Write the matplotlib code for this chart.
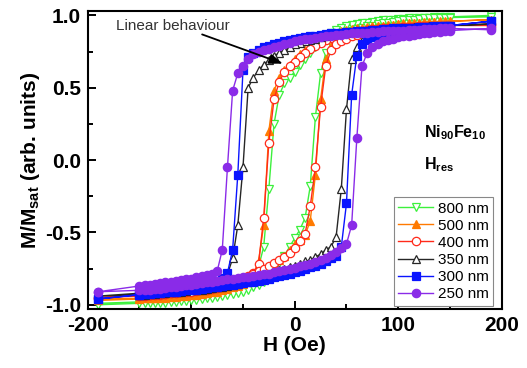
import matplotlib
matplotlib.use('Agg')
import matplotlib.pyplot as plt
from matplotlib.ticker import MultipleLocator

plt.rcParams['font.family'] = ['Liberation Sans', 'DejaVu Sans']
plt.rcParams['mathtext.fontset'] = 'custom'
plt.rcParams['mathtext.rm'] = 'Liberation Sans'
plt.rcParams['mathtext.bf'] = 'Liberation Sans:bold'
plt.rcParams['axes.unicode_minus'] = False

# field sweep (Oe), shared by every branch
H = [-190,
     -150, -145, -140, -135, -130, -125, -120, -115, -110, -105,
     -100, -95, -90, -85, -80, -75, -70, -65, -60, -55,
     -50, -45, -40, -35, -30, -25, -20, -15, -10, -5,
     0, 5, 10, 15, 20, 25, 30, 35, 40, 45,
     50, 55, 60, 65, 70, 75, 80, 85, 90, 95,
     100, 105, 110, 115, 120, 125, 130, 135, 140, 145,
     150, 190]

# descending branch (coming from +sat) and ascending branch, listed along H
m800_down = [-0.99,
             -0.98, -0.98, -0.98, -0.98, -0.975, -0.97, -0.97, -0.965, -0.96, -0.955,
             -0.95, -0.945, -0.94, -0.93, -0.925, -0.915, -0.905, -0.895, -0.88, -0.865,
             -0.85, -0.83, -0.8, -0.74, -0.6, -0.2, 0.25, 0.45, 0.53, 0.57,
             0.61, 0.66, 0.7, 0.74, 0.78, 0.82, 0.85, 0.88, 0.9, 0.915,
             0.925, 0.935, 0.94, 0.945, 0.95, 0.955, 0.96, 0.965, 0.97, 0.97,
             0.975, 0.975, 0.98, 0.98, 0.985, 0.985, 0.985, 0.99, 0.99, 0.99,
             0.99, 1.0]
m800_up = [-1.0,
           -0.99, -0.99, -0.99, -0.985, -0.985, -0.985, -0.98, -0.98, -0.975, -0.975,
           -0.97, -0.965, -0.96, -0.955, -0.95, -0.945, -0.94, -0.93, -0.925, -0.92,
           -0.91, -0.895, -0.88, -0.86, -0.84, -0.81, -0.76, -0.71, -0.66, -0.6,
           -0.54, -0.48, -0.4, -0.18, 0.3, 0.6, 0.74, 0.8, 0.84, 0.865,
           0.88, 0.895, 0.905, 0.915, 0.925, 0.93, 0.94, 0.945, 0.95, 0.955,
           0.96, 0.965, 0.97, 0.97, 0.975, 0.98, 0.98, 0.98, 0.985, 0.985,
           0.985, 0.99]

m500_down = [-0.96,
             -0.955, -0.955, -0.95, -0.95, -0.945, -0.94, -0.94, -0.935, -0.93, -0.925,
             -0.92, -0.915, -0.91, -0.9, -0.895, -0.885, -0.875, -0.865, -0.85, -0.84,
             -0.825, -0.81, -0.79, -0.7, -0.45, 0.2, 0.48, 0.57, 0.62, 0.66,
             0.7, 0.73, 0.76, 0.79, 0.81, 0.83, 0.85, 0.865, 0.88, 0.89,
             0.9, 0.905, 0.91, 0.915, 0.92, 0.925, 0.93, 0.93, 0.935, 0.935,
             0.94, 0.94, 0.945, 0.945, 0.95, 0.95, 0.95, 0.955, 0.955, 0.955,
             0.96, 0.97]
m500_up = [-0.97,
           -0.96, -0.955, -0.955, -0.955, -0.95, -0.95, -0.945, -0.945, -0.94, -0.94,
           -0.935, -0.93, -0.925, -0.92, -0.915, -0.91, -0.9, -0.89, -0.88, -0.87,
           -0.855, -0.84, -0.82, -0.8, -0.78, -0.75, -0.72, -0.69, -0.66, -0.62,
           -0.58, -0.55, -0.52, -0.42, -0.1, 0.42, 0.7, 0.79, 0.83, 0.85,
           0.87, 0.885, 0.895, 0.905, 0.91, 0.92, 0.925, 0.93, 0.935, 0.935,
           0.94, 0.945, 0.945, 0.95, 0.95, 0.955, 0.955, 0.955, 0.96, 0.96,
           0.96, 0.97]

m400_down = [-0.95,
             -0.94, -0.94, -0.935, -0.93, -0.93, -0.925, -0.92, -0.915, -0.91, -0.905,
             -0.9, -0.895, -0.89, -0.88, -0.875, -0.865, -0.855, -0.845, -0.835, -0.825,
             -0.815, -0.8, -0.78, -0.72, -0.4, 0.12, 0.42, 0.54, 0.61, 0.65,
             0.68, 0.71, 0.74, 0.77, 0.79, 0.81, 0.83, 0.845, 0.86, 0.87,
             0.88, 0.885, 0.89, 0.895, 0.9, 0.905, 0.905, 0.91, 0.91, 0.915,
             0.915, 0.92, 0.92, 0.92, 0.925, 0.925, 0.925, 0.93, 0.93, 0.93,
             0.93, 0.94]
m400_up = [-0.95,
           -0.93, -0.93, -0.93, -0.925, -0.925, -0.925, -0.92, -0.92, -0.915, -0.915,
           -0.91, -0.905, -0.9, -0.895, -0.89, -0.885, -0.875, -0.865, -0.855, -0.84,
           -0.825, -0.81, -0.79, -0.77, -0.75, -0.73, -0.71, -0.69, -0.67, -0.64,
           -0.61, -0.56, -0.51, -0.32, -0.05, 0.37, 0.65, 0.76, 0.8, 0.82,
           0.84, 0.855, 0.865, 0.875, 0.88, 0.885, 0.89, 0.895, 0.9, 0.905,
           0.905, 0.91, 0.91, 0.915, 0.915, 0.92, 0.92, 0.925, 0.925, 0.925,
           0.93, 0.93]

m350_down = [-0.94,
             -0.92, -0.92, -0.915, -0.91, -0.91, -0.905, -0.9, -0.895, -0.89, -0.885,
             -0.88, -0.875, -0.87, -0.86, -0.85, -0.84, -0.82, -0.79, -0.68, -0.45,
             -0.05, 0.5, 0.57, 0.62, 0.66, 0.69, 0.72, 0.74, 0.76, 0.78,
             0.8, 0.81, 0.82, 0.83, 0.84, 0.85, 0.86, 0.865, 0.87, 0.875,
             0.88, 0.885, 0.89, 0.89, 0.895, 0.9, 0.9, 0.905, 0.905, 0.91,
             0.91, 0.915, 0.915, 0.92, 0.92, 0.92, 0.925, 0.925, 0.93, 0.93,
             0.93, 0.94]
m350_up = [-0.94,
           -0.93, -0.93, -0.925, -0.925, -0.92, -0.92, -0.915, -0.91, -0.91, -0.905,
           -0.9, -0.9, -0.895, -0.89, -0.885, -0.88, -0.875, -0.87, -0.86, -0.855,
           -0.845, -0.835, -0.825, -0.815, -0.8, -0.79, -0.775, -0.76, -0.75, -0.74,
           -0.73, -0.72, -0.7, -0.69, -0.67, -0.65, -0.62, -0.6, -0.53, -0.2,
           0.35, 0.7, 0.78, 0.82, 0.845, 0.86, 0.87, 0.88, 0.885, 0.89,
           0.895, 0.9, 0.905, 0.91, 0.91, 0.915, 0.92, 0.92, 0.925, 0.925,
           0.93, 0.94]

m300_down = [-0.96,
             -0.93, -0.925, -0.92, -0.92, -0.915, -0.91, -0.905, -0.9, -0.895, -0.89,
             -0.885, -0.88, -0.87, -0.86, -0.85, -0.835, -0.815, -0.78, -0.62, -0.1,
             0.62, 0.71, 0.74, 0.76, 0.78, 0.79, 0.8, 0.81, 0.82, 0.83,
             0.84, 0.845, 0.85, 0.855, 0.86, 0.865, 0.87, 0.875, 0.875, 0.88,
             0.885, 0.885, 0.89, 0.89, 0.895, 0.9, 0.9, 0.905, 0.905, 0.91,
             0.91, 0.915, 0.915, 0.915, 0.92, 0.92, 0.92, 0.925, 0.925, 0.925,
             0.93, 0.96]
m300_up = [-0.96,
           -0.93, -0.925, -0.925, -0.92, -0.92, -0.915, -0.91, -0.91, -0.905, -0.9,
           -0.9, -0.895, -0.89, -0.885, -0.88, -0.875, -0.87, -0.865, -0.86, -0.855,
           -0.85, -0.845, -0.84, -0.835, -0.83, -0.82, -0.81, -0.8, -0.795, -0.785,
           -0.775, -0.765, -0.755, -0.74, -0.73, -0.715, -0.7, -0.68, -0.66, -0.6,
           -0.3, 0.45, 0.72, 0.8, 0.83, 0.85, 0.86, 0.87, 0.88, 0.885,
           0.89, 0.895, 0.9, 0.905, 0.91, 0.91, 0.915, 0.92, 0.92, 0.925,
           0.93, 0.96]

m250_down = [-0.91,
             -0.87, -0.865, -0.86, -0.855, -0.85, -0.845, -0.84, -0.835, -0.83, -0.825,
             -0.82, -0.81, -0.8, -0.795, -0.785, -0.77, -0.62, -0.05, 0.48, 0.6,
             0.65, 0.7, 0.73, 0.75, 0.76, 0.77, 0.78, 0.79, 0.8, 0.81,
             0.82, 0.83, 0.835, 0.84, 0.845, 0.85, 0.855, 0.86, 0.865, 0.865,
             0.87, 0.875, 0.875, 0.88, 0.88, 0.885, 0.885, 0.89, 0.89, 0.89,
             0.895, 0.895, 0.9, 0.9, 0.9, 0.905, 0.905, 0.905, 0.91, 0.91,
             0.91, 0.9]
m250_up = [-0.91,
           -0.9, -0.9, -0.895, -0.89, -0.89, -0.885, -0.88, -0.875, -0.87, -0.865,
           -0.86, -0.855, -0.85, -0.845, -0.84, -0.835, -0.83, -0.825, -0.82, -0.815,
           -0.81, -0.805, -0.8, -0.795, -0.79, -0.785, -0.775, -0.77, -0.76, -0.75,
           -0.745, -0.735, -0.725, -0.715, -0.705, -0.69, -0.675, -0.655, -0.635, -0.61,
           -0.58, -0.45, 0.15, 0.65, 0.74, 0.78, 0.8, 0.82, 0.83, 0.84,
           0.85, 0.855, 0.86, 0.865, 0.87, 0.875, 0.88, 0.885, 0.885, 0.89,
           0.895, 0.91]

labels = ['800 nm', '500 nm', '400 nm', '350 nm', '300 nm', '250 nm']
branches = [(m800_down, m800_up), (m500_down, m500_up), (m400_down, m400_up),
            (m350_down, m350_up), (m300_down, m300_up), (m250_down, m250_up)]
styles = [
    {'color': '#3cf03c', 'marker': 'v', 'mfc': 'white'},
    {'color': '#ff7a00', 'marker': '^', 'mfc': '#ff7a00'},
    {'color': '#ff2a1a', 'marker': 'o', 'mfc': 'white'},
    {'color': '#262626', 'marker': '^', 'mfc': 'white'},
    {'color': '#0a14ff', 'marker': 's', 'mfc': '#0a14ff'},
    {'color': '#8a2be8', 'marker': 'o', 'mfc': '#8a2be8'},
]

fig = plt.figure(figsize=(5.27, 3.68), dpi=100)
ax = fig.add_axes([0.1665, 0.16, 0.7855, 0.81])

for i, (lab, (down, up), st) in enumerate(zip(labels, branches, styles)):
    # one closed loop: sweep down from +190 Oe, then back up
    x = H[::-1] + H
    y = down[::-1] + up
    ax.plot(x, y, color=st['color'], marker=st['marker'], mfc=st['mfc'],
            mec=st['color'], ms=6, mew=0.9, lw=1.0, label=lab, zorder=2 + i)

ax.set_xlim(-200, 200)
ax.set_ylim(-1.03, 1.03)
ax.xaxis.set_major_locator(MultipleLocator(100))
ax.xaxis.set_minor_locator(MultipleLocator(50))
ax.yaxis.set_major_locator(MultipleLocator(0.5))
ax.yaxis.set_minor_locator(MultipleLocator(0.25))
ax.tick_params(which='both', direction='in', top=False, right=False, width=1.4)
ax.tick_params(which='major', length=6, labelsize=15, pad=5)
ax.tick_params(which='minor', length=3.5)
for t in ax.get_xticklabels() + ax.get_yticklabels():
    t.set_fontweight('bold')
for s in ax.spines.values():
    s.set_linewidth(1.5)

ax.set_xlabel('H (Oe)', fontsize=15, fontweight='bold', labelpad=1)
ax.set_ylabel(r'M/M$_{\mathbf{sat}}$ (arb. units)', fontsize=15, fontweight='bold', labelpad=2)

ax.text(-173, 0.925, 'Linear behaviour', fontsize=11, color='#333333', va='center')
ax.annotate('', xy=(-9, 0.66), xytext=(-92, 0.875),
            arrowprops=dict(arrowstyle='-|>,head_length=0.8,head_width=0.3',
                            color='black', lw=1.3), zorder=20)
ax.text(125, 0.19, r'Ni$_{\mathbf{90}}$Fe$_{\mathbf{10}}$', fontsize=11.5,
        fontweight='bold', va='center')
ax.text(125, -0.03, r'H$_{\mathbf{res}}$', fontsize=11.5, fontweight='bold', va='center')

leg = ax.legend(loc='lower right', bbox_to_anchor=(0.98, 0.012), fontsize=11,
                frameon=True, fancybox=False, edgecolor='#888888', framealpha=1,
                labelspacing=0.2, borderpad=0.3, handlelength=2.3,
                handletextpad=0.3, borderaxespad=0)
leg.get_frame().set_linewidth(0.8)
leg.set_zorder(30)

fig.savefig('out.png', dpi=100)
